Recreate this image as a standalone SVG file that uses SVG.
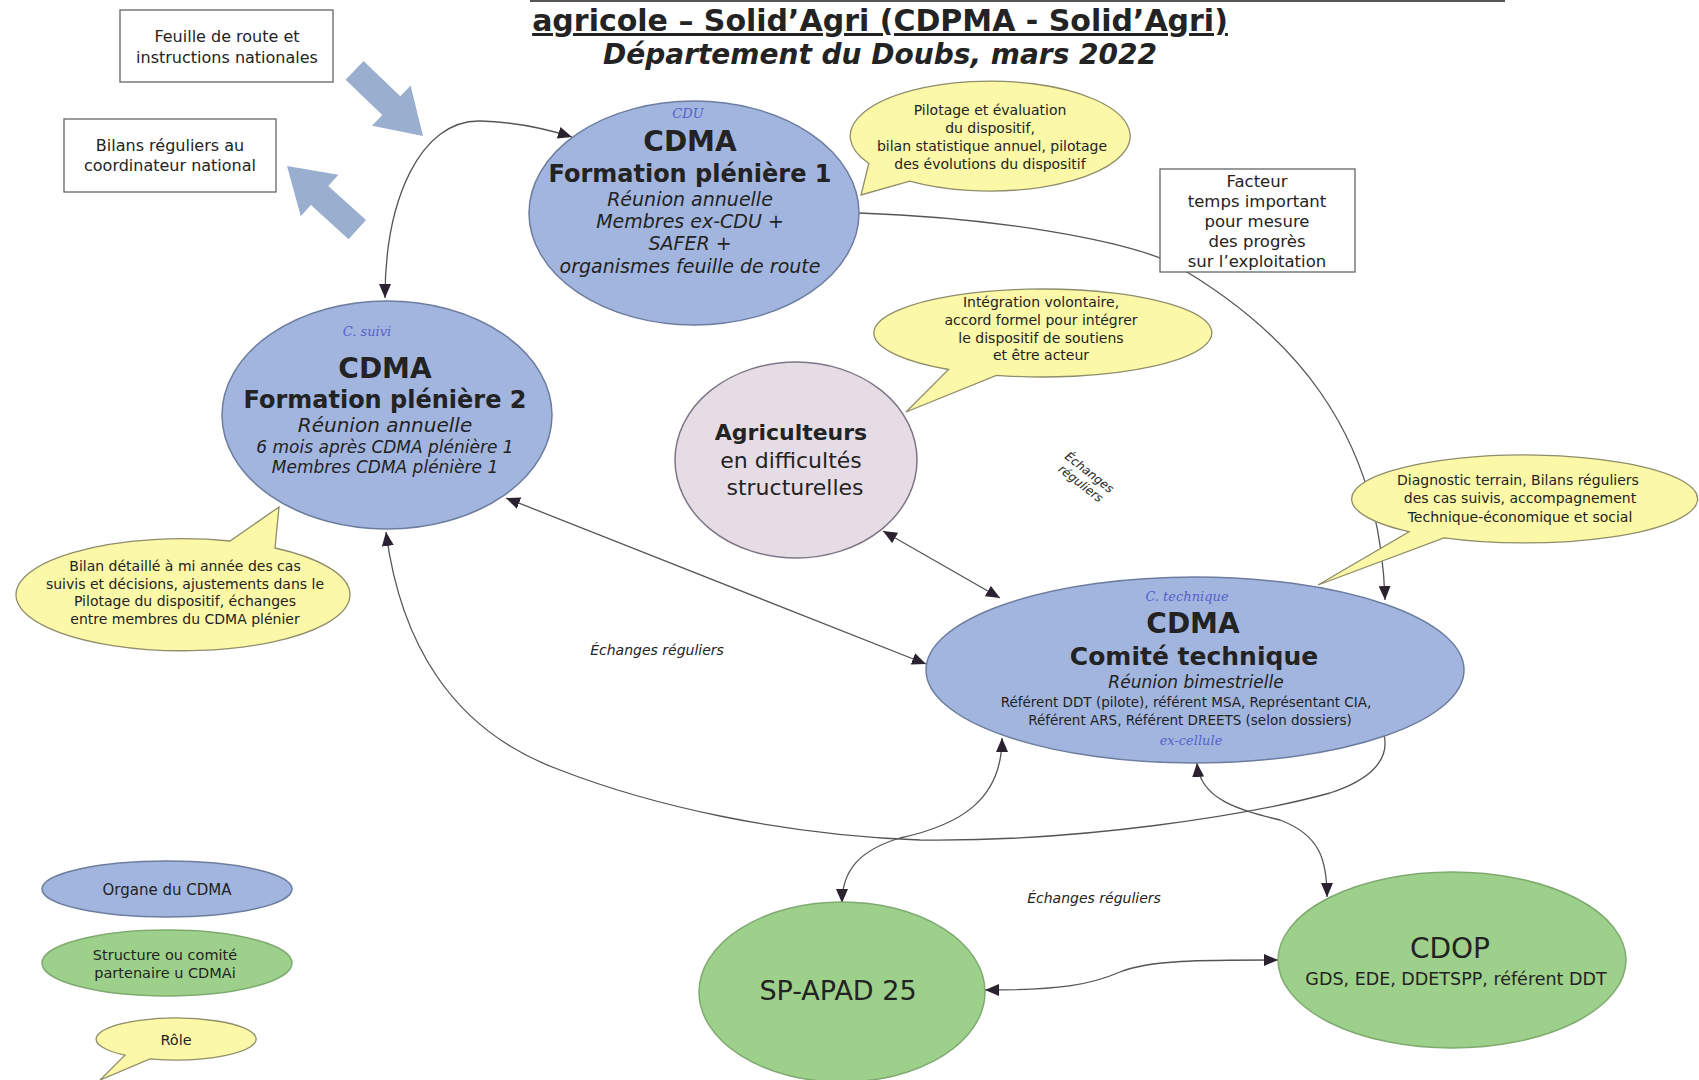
<svg xmlns="http://www.w3.org/2000/svg" width="1699" height="1080" viewBox="0 0 1699 1080">
<style>
text{font-family:"DejaVu Sans","Liberation Sans",sans-serif;fill:#232323;text-anchor:middle}
.ttl{font-weight:bold;font-size:30px;text-decoration:underline}
.sub{font-weight:bold;font-style:italic;font-size:28px}
.org{fill:#a1b5df;stroke:#6d7d9e;stroke-width:1.5}
.par{fill:#9dd08a;stroke:#7faa70;stroke-width:1.5}
.agr{fill:#e6dce6;stroke:#7f7585;stroke-width:1.5}
.bub{fill:#fbf8a8;stroke:#8f8d6a;stroke-width:1.3}
.box{fill:#fff;stroke:#666;stroke-width:1.3}
.big{fill:#9aafd0}
.h1{font-weight:bold;font-size:28px}
.h2{font-weight:bold;font-size:24px}
.it{font-style:italic;font-size:19px}
.sm{font-size:14px}
.bx{font-size:16px}
.lab{font-style:italic;font-size:14px}
.hw{font-family:"DejaVu Serif",serif;font-style:italic;font-size:13px;fill:#5562c8}
.con{fill:none;stroke:#555;stroke-width:1.3}
</style>
<defs>
<marker id="ah" viewBox="0 0 14 12" refX="14" refY="6" markerWidth="14" markerHeight="12" markerUnits="userSpaceOnUse" orient="auto-start-reverse">
<path d="M0,0 L14,6 L0,12 Z" fill="#2b2230"/>
</marker>
</defs>
<rect width="1699" height="1080" fill="#fff"/>
<line x1="530" y1="1" x2="1505" y2="1" stroke="#555" stroke-width="2"/>
<g id="title">
<text class="ttl" x="880" y="31">agricole – Solid’Agri (CDPMA - Solid’Agri)</text>
<text class="sub" x="880" y="64">Département du Doubs, mars 2022</text>
</g>
<g id="connectors">
<path class="con" d="M385,298 C385,200 420,120 480,121 C520,122 550,130 572,137" marker-start="url(#ah)" marker-end="url(#ah)"/>
<path class="con" d="M859,213 C1000,218 1120,240 1170,262 C1290,330 1380,430 1385,600" marker-end="url(#ah)"/>
<path class="con" d="M506,498 L926,664" marker-start="url(#ah)" marker-end="url(#ah)"/>
<path class="con" d="M883,531 L1000,598" marker-start="url(#ah)" marker-end="url(#ah)"/>
<path class="con" d="M386,532 C400,640 450,730 560,770 C650,805 780,835 920,840 C1080,842 1250,815 1330,793 C1370,780 1390,760 1384,735" marker-start="url(#ah)"/>
<path class="con" d="M1002,738 C1002,800 960,825 900,838 C860,850 842,870 842,903" marker-start="url(#ah)" marker-end="url(#ah)"/>
<path class="con" d="M1197,763 C1200,800 1240,810 1280,820 C1320,835 1327,860 1327,897" marker-start="url(#ah)" marker-end="url(#ah)"/>
<path class="con" d="M985,990 C1060,990 1090,985 1120,972 C1150,960 1200,960 1278,960" marker-start="url(#ah)" marker-end="url(#ah)"/>
</g>
<g id="arrow-in">
<polygon class="big" points="363.6,61 400.3,96.2 410.6,85.4 423,136 372,125.8 382.3,115 345.6,79.8"/>
</g>
<g id="arrow-out">
<polygon class="big" points="366,220.1 328.3,185.9 338.4,174.8 287,166 300.8,216.2 310.9,205.1 348.6,239.3"/>
</g>
<g id="box-feuille">
<rect class="box" x="120" y="10" width="213" height="72"/>
<text class="bx" x="227" y="42">Feuille de route et</text>
<text class="bx" x="227" y="63">instructions nationales</text>
</g>
<g id="box-bilans">
<rect class="box" x="64" y="119" width="212" height="73"/>
<text class="bx" x="170" y="151">Bilans réguliers au</text>
<text class="bx" x="170" y="171">coordinateur national</text>
</g>
<g id="box-facteur">
<rect class="box" x="1160" y="169" width="195" height="103"/>
<text class="bx" x="1257" y="187" style="font-size:16.5px">Facteur</text>
<text class="bx" x="1257" y="207" style="font-size:16.5px">temps important</text>
<text class="bx" x="1257" y="227" style="font-size:16.5px">pour mesure</text>
<text class="bx" x="1257" y="247" style="font-size:16.5px">des progrès</text>
<text class="bx" x="1257" y="267" style="font-size:16.5px">sur l’exploitation</text>
</g>
<g id="cdma-pleniere-1">
<ellipse class="org" cx="694" cy="213" rx="165" ry="112"/>
<text class="hw" x="688" y="118">CDU</text>
<text class="h1" x="690" y="151">CDMA</text>
<text class="h2" x="690" y="182">Formation plénière 1</text>
<text class="it" x="690" y="206">Réunion annuelle</text>
<text class="it" x="690" y="228">Membres ex-CDU +</text>
<text class="it" x="690" y="250">SAFER +</text>
<text class="it" x="690" y="273">organismes feuille de route</text>
</g>
<g id="cdma-pleniere-2">
<ellipse class="org" cx="387" cy="415" rx="165" ry="114"/>
<text class="hw" x="367" y="336">C. suivi</text>
<text class="h1" x="385" y="378">CDMA</text>
<text class="h2" x="385" y="408">Formation plénière 2</text>
<text class="it" x="385" y="432" style="font-size:20px">Réunion annuelle</text>
<text class="it" x="385" y="453" style="font-size:17px">6 mois après CDMA plénière 1</text>
<text class="it" x="385" y="473" style="font-size:17px">Membres CDMA plénière 1</text>
</g>
<g id="agriculteurs">
<ellipse class="agr" cx="796" cy="460" rx="121" ry="98"/>
<text x="791" y="440" style="font-size:22px;font-weight:bold">Agriculteurs</text>
<text x="791" y="468" style="font-size:22px">en difficultés</text>
<text x="795" y="495" style="font-size:22px">structurelles</text>
</g>
<g id="comite-technique">
<ellipse class="org" cx="1195" cy="670" rx="269" ry="93"/>
<text class="hw" x="1187" y="601">C. technique</text>
<text class="h1" x="1193" y="633">CDMA</text>
<text class="h2" x="1194" y="665" style="font-size:25px">Comité technique</text>
<text class="it" x="1196" y="688" style="font-size:17px">Réunion bimestrielle</text>
<text x="1186" y="707" style="font-size:13.5px">Référent DDT (pilote), référent MSA, Représentant CIA,</text>
<text x="1190" y="725" style="font-size:13.5px">Référent ARS, Référent DREETS (selon dossiers)</text>
<text class="hw" x="1191" y="745">ex-cellule</text>
</g>
<g id="sp-apad">
<ellipse class="par" cx="842" cy="992" rx="143" ry="90"/>
<text x="838" y="1000" style="font-size:27px">SP-APAD 25</text>
</g>
<g id="cdop">
<ellipse class="par" cx="1452" cy="960" rx="174" ry="88"/>
<text x="1450" y="958" style="font-size:28px">CDOP</text>
<text x="1456" y="985" style="font-size:17.5px">GDS, EDE, DDETSPP, référent DDT</text>
</g>
<g id="bulle-pilotage">
<path class="bub" d="M909.7,181.1 A140 55 0 1 0 868.8,163.5 L861,195 Z"/>
<text class="sm" x="990" y="115">Pilotage et évaluation</text>
<text class="sm" x="990" y="133">du dispositif,</text>
<text class="sm" x="992" y="151">bilan statistique annuel, pilotage</text>
<text class="sm" x="990" y="169">des évolutions du dispositif</text>
</g>
<g id="bulle-integration">
<path class="bub" d="M996.4,375.3 A169 44 0 1 0 948.5,369.5 L906,412 Z"/>
<text class="sm" x="1041" y="307">Intégration volontaire,</text>
<text class="sm" x="1041" y="325">accord formel pour intégrer</text>
<text class="sm" x="1041" y="343">le dispositif de soutiens</text>
<text class="sm" x="1041" y="360">et être acteur</text>
</g>
<g id="bulle-bilan">
<path class="bub" d="M230,541 A167 56 0 1 0 275,548 L279,507 Z"/>
<text class="sm" x="185" y="571">Bilan détaillé à mi année des cas</text>
<text class="sm" x="185" y="589">suivis et décisions, ajustements dans le</text>
<text class="sm" x="185" y="606">Pilotage du dispositif, échanges</text>
<text class="sm" x="185" y="624">entre membres du CDMA plénier</text>
</g>
<g id="bulle-diagnostic">
<path class="bub" d="M1444,537.9 A173 44 0 1 0 1409,531.7 L1318,585 Z"/>
<text class="sm" x="1518" y="485">Diagnostic terrain, Bilans réguliers</text>
<text class="sm" x="1520" y="503">des cas suivis, accompagnement</text>
<text class="sm" x="1520" y="522">Technique-économique et social</text>
</g>
<g id="labels">
<text class="lab" x="657" y="655">Échanges réguliers</text>
<text class="lab" x="1094" y="903">Échanges réguliers</text>
<g transform="translate(1085,478) rotate(38)">
<text class="lab" x="0" y="-3" style="font-size:12px">Échanges</text>
<text class="lab" x="0" y="11" style="font-size:12px">réguliers</text>
</g>
</g>
<g id="legend">
<ellipse class="org" cx="167" cy="889" rx="125" ry="28"/>
<text x="167" y="895" style="font-size:15px">Organe du CDMA</text>
<ellipse class="par" cx="167" cy="963" rx="125" ry="33"/>
<text x="165" y="960" style="font-size:14.5px">Structure ou comité</text>
<text x="165" y="978" style="font-size:14.5px">partenaire u CDMAi</text>
<path class="bub" d="M150,1058.9 A80 21 0 1 0 125,1055.2 L100,1080 Z"/>
<text x="176" y="1045" style="font-size:14.5px">Rôle</text>
</g>
</svg>
